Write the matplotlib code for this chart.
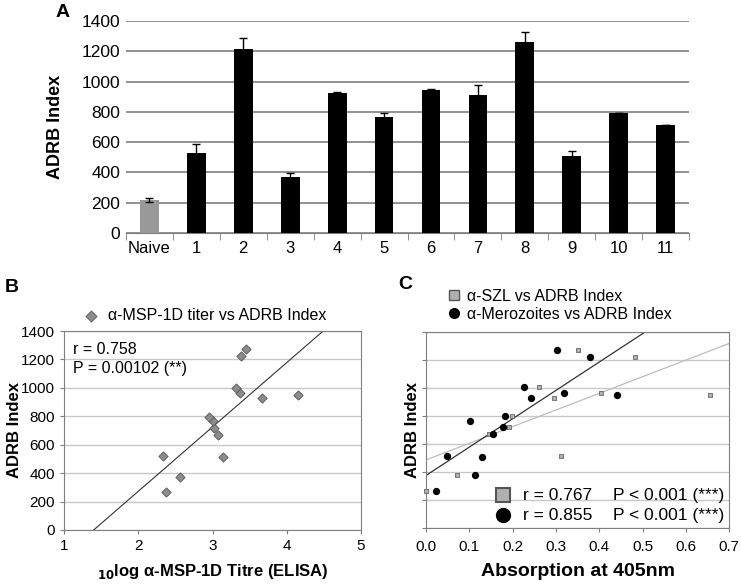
import matplotlib
matplotlib.use("Agg")
import matplotlib.pyplot as plt
from matplotlib.lines import Line2D
import numpy as np

plt.rcParams['font.family'] = ['Liberation Sans', 'DejaVu Sans']

# panel A: ADRB index per group
groups = ['Naive', '1', '2', '3', '4', '5', '6', '7', '8', '9', '10', '11']
adrb_mean = [218, 530, 1215, 370, 922, 764, 942, 911, 1263, 508, 792, 715]
adrb_err = [15, 60, 70, 28, 10, 26, 10, 64, 64, 33, 0, 0]
bar_colors = ['#999999'] + ['black'] * 11

# panel B: MSP-1D titre vs ADRB index
msp_titre = [2.37, 2.56, 3.14, 2.33, 3.07, 3.02, 3.00, 2.95, 3.66, 4.15, 3.37, 3.31, 3.38, 3.45]
msp_adrb = [265, 373, 510, 520, 666, 720, 766, 798, 930, 947, 965, 1002, 1222, 1270]
msp_slope, msp_icept = 453.0, -634.0

# panel C: absorption vs ADRB index
mero_abs = [0.024, 0.114, 0.129, 0.048, 0.155, 0.177, 0.102, 0.182, 0.242, 0.442, 0.318, 0.226, 0.379, 0.302]
mero_adrb = [266, 375, 508, 517, 667, 721, 766, 800, 930, 947, 966, 1004, 1222, 1272]
szl_abs = [0.0, 0.072, 0.312, 0.146, 0.191, 0.198, 0.295, 0.656, 0.403, 0.261, 0.482, 0.35]
szl_adrb = [266, 375, 510, 667, 719, 800, 930, 947, 963, 1004, 1222, 1272]
mero_slope, mero_icept = 2022.0, 375.0
szl_slope, szl_icept = 1186.0, 486.0

fig = plt.figure(figsize=(7.41, 5.84), dpi=100)

def center_labels(ax, xlab_y, ylab_x):
    ax.xaxis.label.set_va('center')
    ax.yaxis.label.set_va('center')
    ax.xaxis.set_label_coords(0.5, xlab_y)
    ax.yaxis.set_label_coords(ylab_x, 0.5)

# ---- A ----
axA = fig.add_axes([0.170, 0.601, 0.760, 0.363])
xpos = np.arange(len(groups))
axA.bar(xpos, adrb_mean, width=0.4, color=bar_colors, zorder=3,
        yerr=adrb_err, error_kw=dict(ecolor='black', capsize=3, lw=1, capthick=1))
axA.set_xlim(-0.5, len(groups) - 0.5)
axA.set_ylim(0, 1400)
axA.set_yticks(range(0, 1401, 200))
axA.yaxis.grid(True, color='#7f7f7f', lw=1.2)
axA.set_axisbelow(True)
for s in ['top', 'right', 'left']:
    axA.spines[s].set_visible(False)
axA.spines['bottom'].set_color('#7f7f7f')
axA.set_xticks(xpos)
axA.set_xticklabels(groups, fontsize=12)
axA.set_xticks(np.arange(-0.5, len(groups), 1), minor=True)
axA.tick_params(axis='x', which='major', length=0, pad=6)
axA.tick_params(axis='x', which='minor', length=5, color='#7f7f7f')
axA.tick_params(axis='y', length=0, labelsize=12.5, pad=4)
axA.set_ylabel('ADRB Index', fontsize=13, fontweight='bold')
center_labels(axA, -0.1, -0.126)

# ---- B ----
axB = fig.add_axes([0.0864, 0.0925, 0.4008, 0.3407])
axB.scatter(msp_titre, msp_adrb, marker='D', s=22, color='#8c8c8c',
            edgecolors='#555555', linewidths=0.6, zorder=3,
            label='α-MSP-1D titer vs ADRB Index')
xl = np.array([1, 5])
axB.plot(xl, msp_slope * xl + msp_icept, color='#333333', lw=0.8, zorder=2)
axB.set_xlim(1, 5)
axB.set_ylim(0, 1400)
axB.set_yticks(range(0, 1401, 200))
axB.set_xticks([1, 2, 3, 4, 5])
axB.yaxis.grid(True, color='#c8c8c8', lw=1)
axB.set_axisbelow(True)
for s in axB.spines.values():
    s.set_color('#7f7f7f')
axB.tick_params(labelsize=11, length=3, color='#7f7f7f')
axB.set_ylabel('ADRB Index', fontsize=12, fontweight='bold')
axB.set_xlabel(r'$_{\mathbf{10}}$log α-MSP-1D Titre (ELISA)', fontsize=12, fontweight='bold')
center_labels(axB, -0.211, -0.168)
axB.legend(loc='lower center', bbox_to_anchor=(0.46, 0.99), frameon=False,
           fontsize=11.5, handletextpad=0.1, borderaxespad=0.2, markerscale=1.2)
axB.text(0.03, 0.905, 'r = 0.758', transform=axB.transAxes, fontsize=11.5, va='center')
axB.text(0.03, 0.814, 'P = 0.00102 (**)', transform=axB.transAxes, fontsize=11.5, va='center')

# ---- C ----
axC = fig.add_axes([0.575, 0.0959, 0.409, 0.3361])
axC.scatter(szl_abs, szl_adrb, marker='s', s=12, color='#b0b0b0',
            edgecolors='#666666', linewidths=0.6, zorder=3, clip_on=False)
axC.scatter(mero_abs, mero_adrb, marker='o', s=18, color='black', zorder=4, clip_on=False)
xc = np.array([0, 0.7])
axC.plot(xc, szl_slope * xc + szl_icept, color='#bdbdbd', lw=0.9, zorder=2)
axC.plot(xc, mero_slope * xc + mero_icept, color='#333333', lw=0.9, zorder=2)
axC.set_xlim(0, 0.7)
axC.set_ylim(0, 1400)
axC.set_yticks(range(0, 1401, 200))
axC.set_yticklabels([])
axC.set_xticks(np.arange(0, 0.71, 0.1))
axC.set_xticklabels(['0.0', '0.1', '0.2', '0.3', '0.4', '0.5', '0.6', '0.7'])
axC.yaxis.grid(True, color='#c8c8c8', lw=1)
axC.set_axisbelow(True)
for s in axC.spines.values():
    s.set_color('#7f7f7f')
axC.tick_params(labelsize=11, length=3, color='#7f7f7f', pad=6)
axC.set_ylabel('ADRB Index', fontsize=12, fontweight='bold')
axC.set_xlabel('Absorption at 405nm', fontsize=14, fontweight='bold')
center_labels(axC, -0.224, -0.046)
handles = [Line2D([], [], ls='none', marker='s', ms=7, mfc='#b0b0b0', mec='#555555', mew=1),
           Line2D([], [], ls='none', marker='o', ms=7, color='black')]
axC.legend(handles, ['α-SZL vs ADRB Index', 'α-Merozoites vs ADRB Index'],
           loc='lower left', bbox_to_anchor=(0.04, 1.01), frameon=False, fontsize=11.5,
           handletextpad=0.3, labelspacing=0.2, borderaxespad=0.1, handlelength=1.0)
axC.plot([0.254], [0.168], transform=axC.transAxes, marker='s', ms=10,
         mfc='#b0b0b0', mec='#555555', mew=1.5, ls='none')
axC.plot([0.254], [0.066], transform=axC.transAxes, marker='o', ms=10, color='black', ls='none')
axC.text(0.32, 0.168, 'r = 0.767', transform=axC.transAxes, fontsize=12.5, va='center')
axC.text(0.617, 0.168, 'P < 0.001 (***)', transform=axC.transAxes, fontsize=12.5, va='center')
axC.text(0.32, 0.066, 'r = 0.855', transform=axC.transAxes, fontsize=12.5, va='center')
axC.text(0.617, 0.066, 'P < 0.001 (***)', transform=axC.transAxes, fontsize=12.5, va='center')

# panel letters
fig.text(0.084, 0.978, 'A', fontsize=14, fontweight='bold', va='center', ha='center')
fig.text(0.016, 0.507, 'B', fontsize=14, fontweight='bold', va='center', ha='center')
fig.text(0.547, 0.512, 'C', fontsize=14, fontweight='bold', va='center', ha='center')

fig.savefig('out.png', dpi=100)
